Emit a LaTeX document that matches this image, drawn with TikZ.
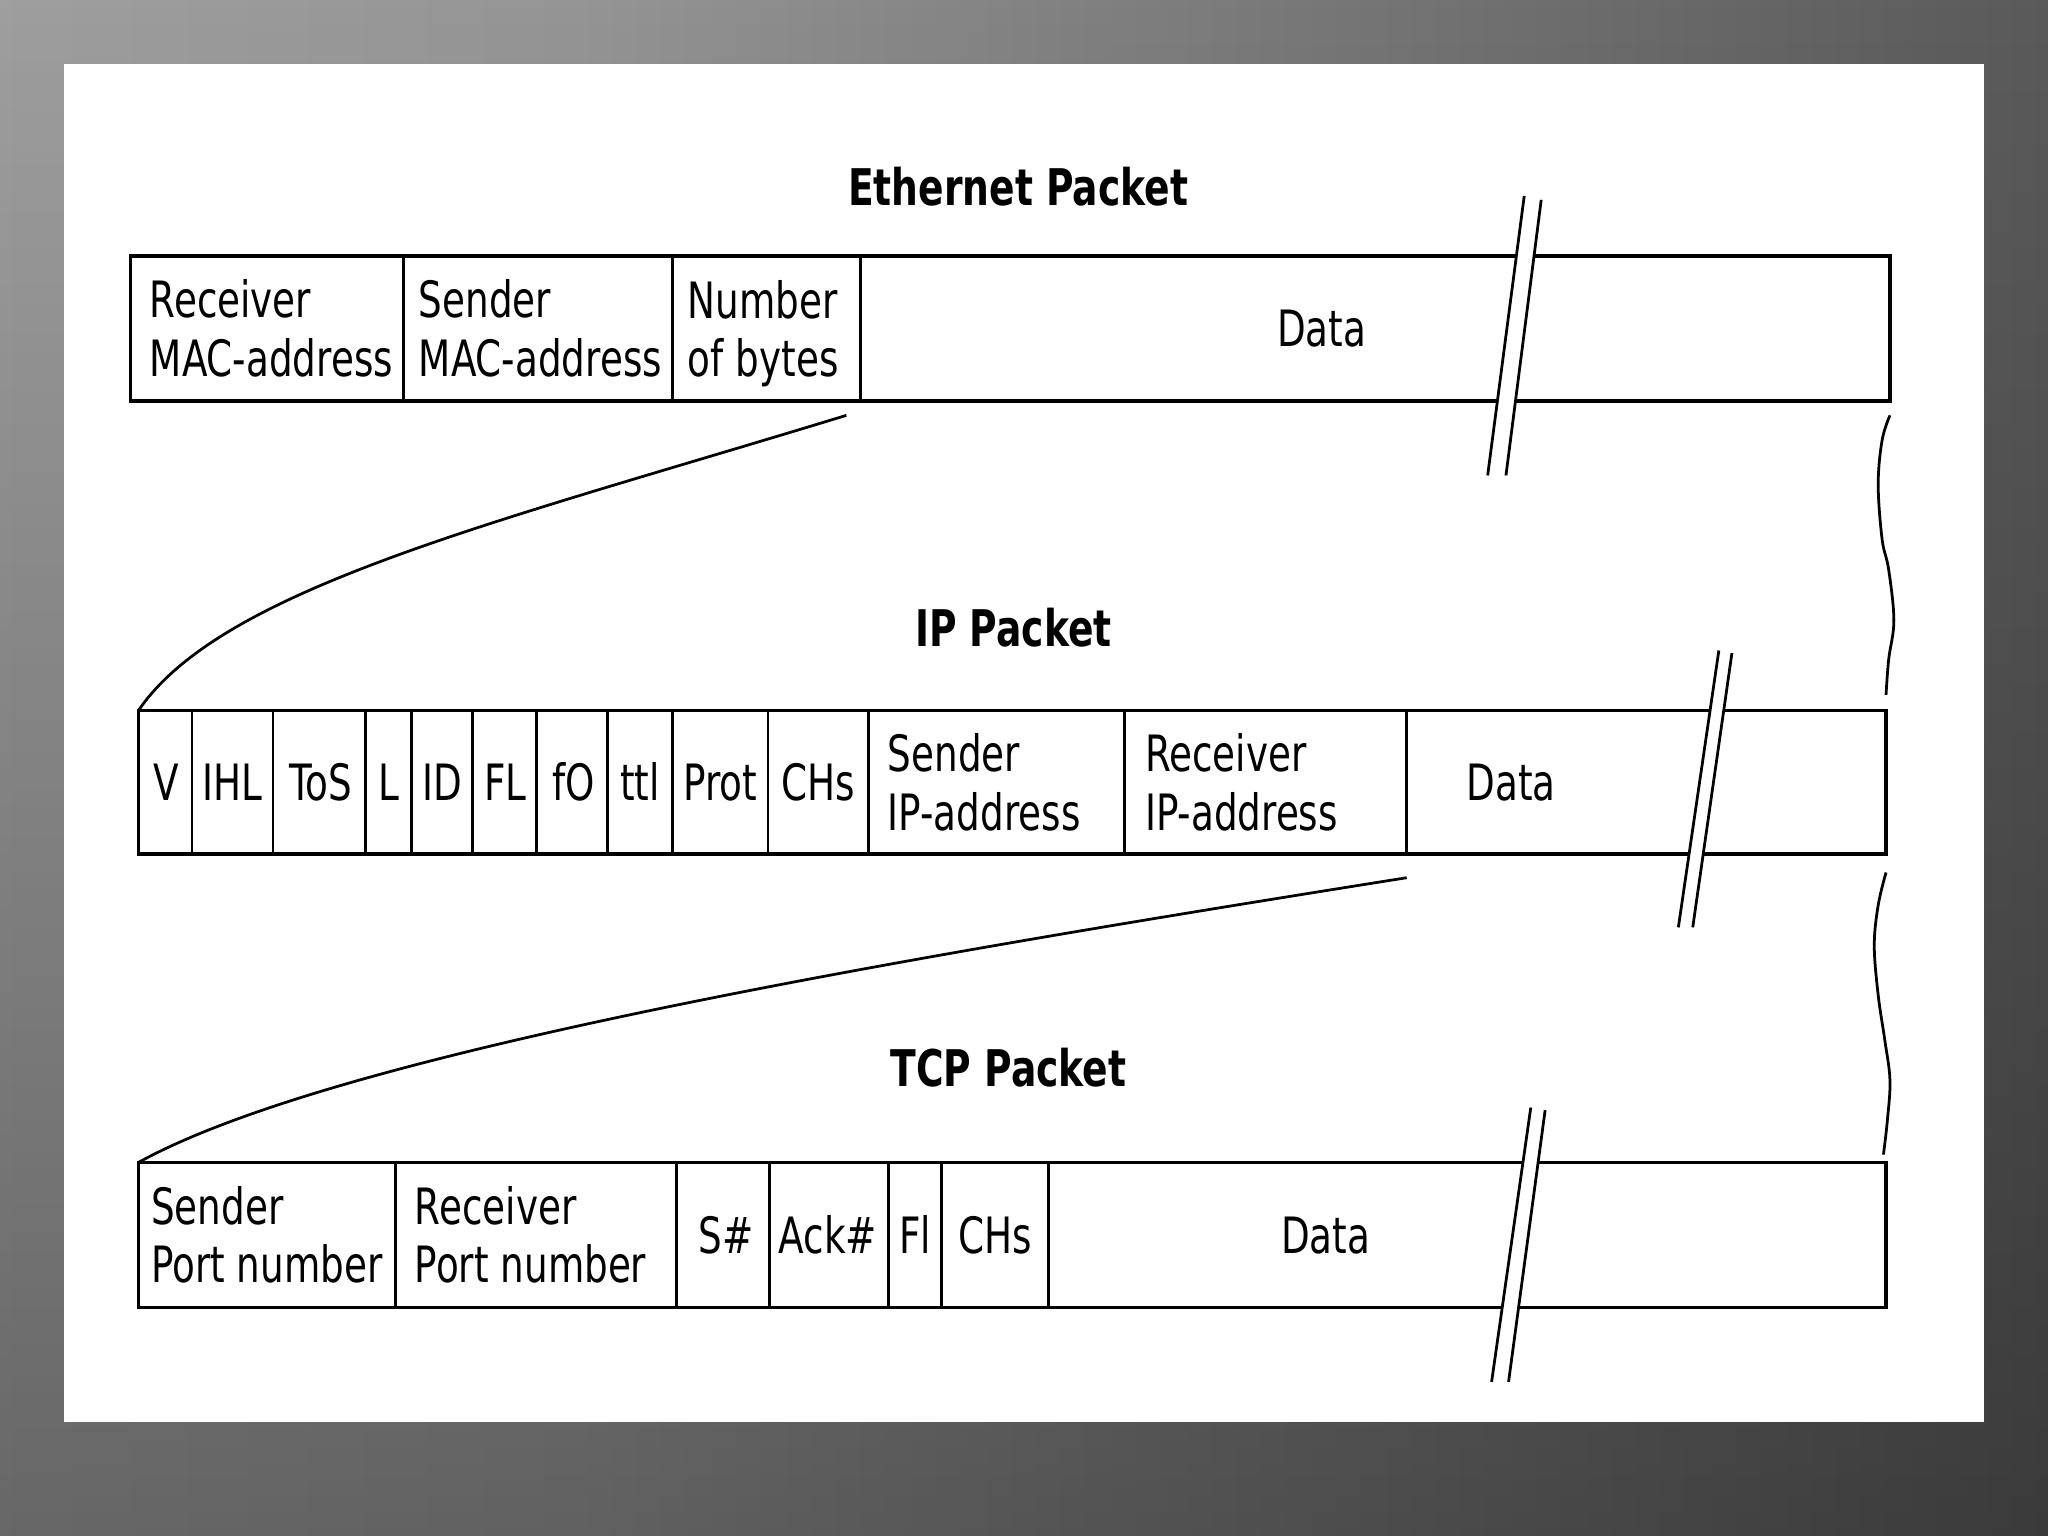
\documentclass[tikz,border=0pt]{standalone}
\usepackage{fontspec}
\setmainfont[FakeStretch=0.745]{DejaVu Sans}
\usetikzlibrary{fadings}
\definecolor{bgL}{HTML}{B0B0B0}
\definecolor{bgM}{HTML}{959595}
\definecolor{bgR}{HTML}{5A5A5A}
\pgfdeclarehorizontalshading{bgshade}{100bp}{color(0bp)=(bgL); color(39bp)=(bgM); color(75bp)=(bgR); color(100bp)=(bgR)}
\begin{document}
\begin{tikzpicture}[x=0.01cm,y=-0.01cm,
  outer/.style={line width=0.8pt},
  divider/.style={line width=0.6pt},
  lab/.style={inner sep=0pt, font=\fontsize{10.9}{12.8}\selectfont},
  lab1/.style={lab, anchor=base},
  lab2/.style={lab, anchor=west, align=left},
  title/.style={inner sep=0pt, anchor=base, font=\fontsize{11}{13}\selectfont\bfseries},
  brk/.style={line width=0.6pt},
  link/.style={line width=0.6pt}]
\useasboundingbox (0,0) rectangle (1568,1176);
% background
\shade[shading=bgshade] (0,0) rectangle (1568,1176);
\fill[black, opacity=0.35, path fading=north] (0,0) rectangle (1568,1176);
\fill[white] (49,49) rectangle (1519,1089);

% ---------- Ethernet packet ----------
\node[title] (ethT) at (779.5,157) {Ethernet Packet};
\coordinate (e-nw) at (100,196);
\coordinate (e-se) at (1447,307);
\draw[outer] (e-nw) rectangle (e-se);
\foreach \x in {309,515,659} \draw[divider] (\x,196) -- (\x,307);
\node[lab2] (e1) at (114,251.5) {Receiver\\MAC-address};
\node[lab2] (e2) at (320,251.5) {Sender\\MAC-address};
\node[lab2] (e3) at (526,255.5) {Number\\of bytes};
\node[lab1] (e4) at (1012,265.5) {Data};
\fill[white] (1167,150) -- (1180,153) -- (1153,364) -- (1139,364) -- cycle;
\draw[brk] (1167,150) -- (1139,364);
\draw[brk] (1180,153) -- (1153,364);

% ---------- IP packet ----------
\node[title] (ipT) at (776,495) {IP Packet};
\coordinate (ip-nw) at (106,544);
\coordinate (ip-se) at (1444,654);
\draw[outer] (ip-nw) rectangle (ip-se);
\foreach \x in {147,209,280,315,362,411,465,515,588,665,861,1077} \draw[divider] (\x,544) -- (\x,654);
\node[lab1] (i1) at (127,613) {V};
\node[lab1] (i2) at (178,613) {IHL};
\node[lab1] (i3) at (245.5,613) {ToS};
\node[lab1] (i4) at (297.5,613) {L};
\node[lab1] (i5) at (338.5,613) {ID};
\node[lab1] (i6) at (387,613) {FL};
\node[lab1] (i7) at (439,613) {fO};
\node[lab1] (i8) at (490,613) {ttl};
\node[lab1] (i9) at (551.5,613) {Prot};
\node[lab1] (i10) at (626.5,613) {CHs};
\node[lab2] (i11) at (679,599) {Sender\\IP-address};
\node[lab2] (i12) at (876,599) {Receiver\\IP-address};
\node[lab1] (i13) at (1157,613) {Data};
\fill[white] (1316,498) -- (1326,500) -- (1296,710) -- (1285,710) -- cycle;
\draw[brk] (1316,498) -- (1285,710);
\draw[brk] (1326,500) -- (1296,710);

% ---------- TCP packet ----------
\node[title] (tcpT) at (772,832) {TCP Packet};
\coordinate (t-nw) at (106,890);
\coordinate (t-se) at (1444,1001);
\draw[outer] (t-nw) rectangle (t-se);
\foreach \x in {303,518,589,680,721,803} \draw[divider] (\x,890) -- (\x,1001);
\node[lab2] (t1) at (115,945.5) {Sender\\Port number};
\node[lab2] (t2) at (317,945.5) {Receiver\\Port number};
\node[lab1] (t3) at (556,959.5) {S\#};
\node[lab1] (t4) at (634,959.5) {Ack\#};
\node[lab1] (t5) at (700.5,959.5) {Fl};
\node[lab1] (t6) at (762,959.5) {CHs};
\node[lab1] (t7) at (1015,959.5) {Data};
\fill[white] (1172,848) -- (1183,850) -- (1155,1058) -- (1142,1058) -- cycle;
\draw[brk] (1172,848) -- (1142,1058);
\draw[brk] (1183,850) -- (1155,1058);

% ---------- connecting curves ----------
\coordinate (ethlink) at (648,318);
\coordinate (iplink) at (1077,672);
\draw[link] (ethlink) .. controls (380,400) and (170,450) .. (ip-nw);
\draw[link] (iplink) .. controls (700,732) and (260,805) .. (t-nw);

% ---------- right-hand wavy lines ----------
\coordinate (w1s) at (1447,318);
\coordinate (w1e) at (1444,532);
\coordinate (w2s) at (1444,668);
\coordinate (w2e) at (1442,884);
\draw[link] plot[smooth, tension=0.6] coordinates {(w1s) (1441,337) (1438,371) (1441,413) (1446,436) (1450,475) (1446,505) (w1e)};
\draw[link] plot[smooth, tension=0.6] coordinates {(w2s) (1438,693) (1435,724) (1438,762) (1443,796) (1447,827) (1445,858) (w2e)};
\end{tikzpicture}
\end{document}
